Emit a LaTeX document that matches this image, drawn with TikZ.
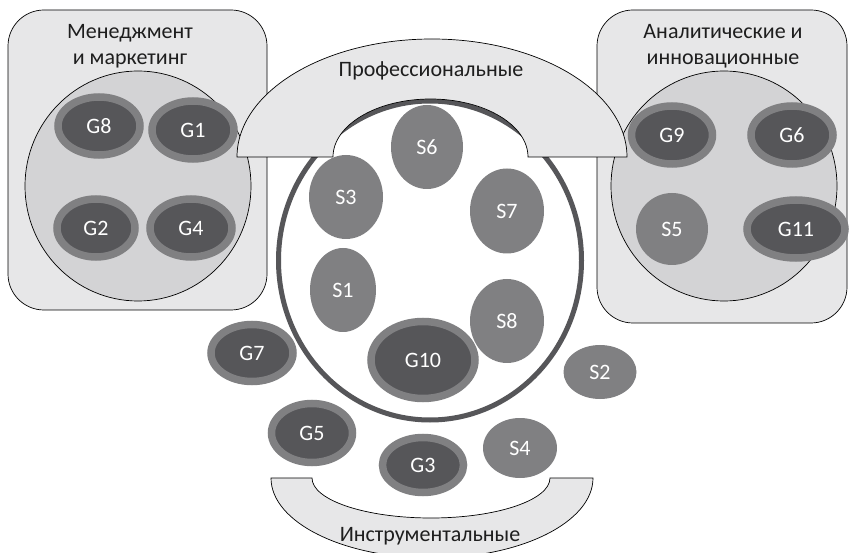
\documentclass[tikz,border=0pt]{standalone}
\usepackage{fontspec}
\setmainfont{Carlito}
\usetikzlibrary{shapes.geometric}
\definecolor{boxfill}{RGB}{231,231,232}
\definecolor{circfill}{RGB}{211,211,213}
\definecolor{sgray}{RGB}{128,128,130}
\definecolor{gdark}{RGB}{86,86,89}
\definecolor{ringc}{RGB}{86,86,89}
\definecolor{titlec}{RGB}{30,30,30}
\tikzset{
  lab/.style={font=\fontsize{22}{26}\selectfont},
  title/.style={lab, text=titlec, align=center},
  gnode/.style={ellipse, lab, text=white, fill=gdark, draw=sgray, line width=7.5pt, inner sep=0pt},
  snode/.style={ellipse, lab, text=white, fill=sgray, inner sep=0pt},
  grpbox/.style={draw=black, line width=0.7pt, fill=boxfill, rounded corners=36pt},
  grpcirc/.style={draw=black, line width=0.7pt, fill=circfill},
  arcshape/.style={draw=black, line width=0.7pt, fill=boxfill}
}
\begin{document}
\begin{tikzpicture}[x=1pt,y=-1pt]
\useasboundingbox (0,0) rectangle (849,553);
\fill[white] (0,0) rectangle (849,553);
% group boxes
\draw[grpbox] (8,10) rectangle (267,310);
\draw[grpbox] (597,10) rectangle (847,323);
\node[title] (tmm) at (130,46) {Менеджмент\\и маркетинг};
\node[title] (tai) at (723,46) {Аналитические и\\инновационные};
\node[grpcirc, ellipse, minimum width=226pt, minimum height=230pt] (cl) at (138,186) {};
\node[grpcirc, ellipse, minimum width=226pt, minimum height=230pt] (cr) at (724,186) {};
% left group
\node[gnode, minimum width=82pt, minimum height=58pt] (G8) at (99,126) {G8};
\node[gnode, minimum width=82pt, minimum height=58pt] (G1) at (193,130) {G1};
\node[gnode, minimum width=78pt, minimum height=58pt] (G2) at (96,228) {G2};
\node[gnode, minimum width=82pt, minimum height=58pt] (G4) at (191,228) {G4};
% right group
\node[gnode, minimum width=81pt, minimum height=58pt] (G9) at (672,135) {G9};
\node[gnode, minimum width=82pt, minimum height=58pt] (G6) at (792,135) {G6};
\node[snode, minimum width=72pt, minimum height=72pt] (S5) at (672,229) {S5};
\node[gnode, minimum width=98pt, minimum height=58pt] (G11) at (796,229) {G11};
% central ring
\node[ellipse, draw=ringc, line width=5pt, fill=white, minimum width=303pt, minimum height=319pt, inner sep=0pt] (ring) at (430,260.5) {};
% professional shape
\path[arcshape] (237,157) arc[start angle=180, end angle=360, x radius=195, y radius=118]
  -- (528,157) arc[start angle=0, end angle=-180, x radius=97.5, y radius=58] -- cycle;
\node[title] (tprof) at (431,71) {Профессиональные};
% inner elements
\node[snode, minimum width=72pt, minimum height=84pt] (S6) at (427,147) {S6};
\node[snode, minimum width=74pt, minimum height=84pt] (S3) at (346,197) {S3};
\node[snode, minimum width=74pt, minimum height=85pt] (S7) at (507,211) {S7};
\node[snode, minimum width=66pt, minimum height=84pt] (S1) at (343,290) {S1};
\node[snode, minimum width=74pt, minimum height=84pt] (S8) at (507,321) {S8};
\node[gnode, minimum width=104pt, minimum height=77pt] (G10) at (423,360) {G10};
% outside elements
\node[gnode, minimum width=82pt, minimum height=57pt] (G7) at (252,353) {G7};
\node[snode, minimum width=73pt, minimum height=54pt] (S2) at (600,372) {S2};
\node[gnode, minimum width=81pt, minimum height=59pt] (G5) at (312,433) {G5};
\node[gnode, minimum width=81pt, minimum height=55pt] (G3) at (423,465) {G3};
\node[snode, minimum width=74pt, minimum height=60pt] (S4) at (520,448) {S4};
% instrumental shape
\path[arcshape] (271,478) arc[start angle=180, end angle=0, x radius=161, y radius=80]
  -- (550,478) arc[start angle=0, end angle=180, x radius=119, y radius=40] -- cycle;
\node[title] (tinst) at (430,536) {Инструментальные};
\end{tikzpicture}
\end{document}
